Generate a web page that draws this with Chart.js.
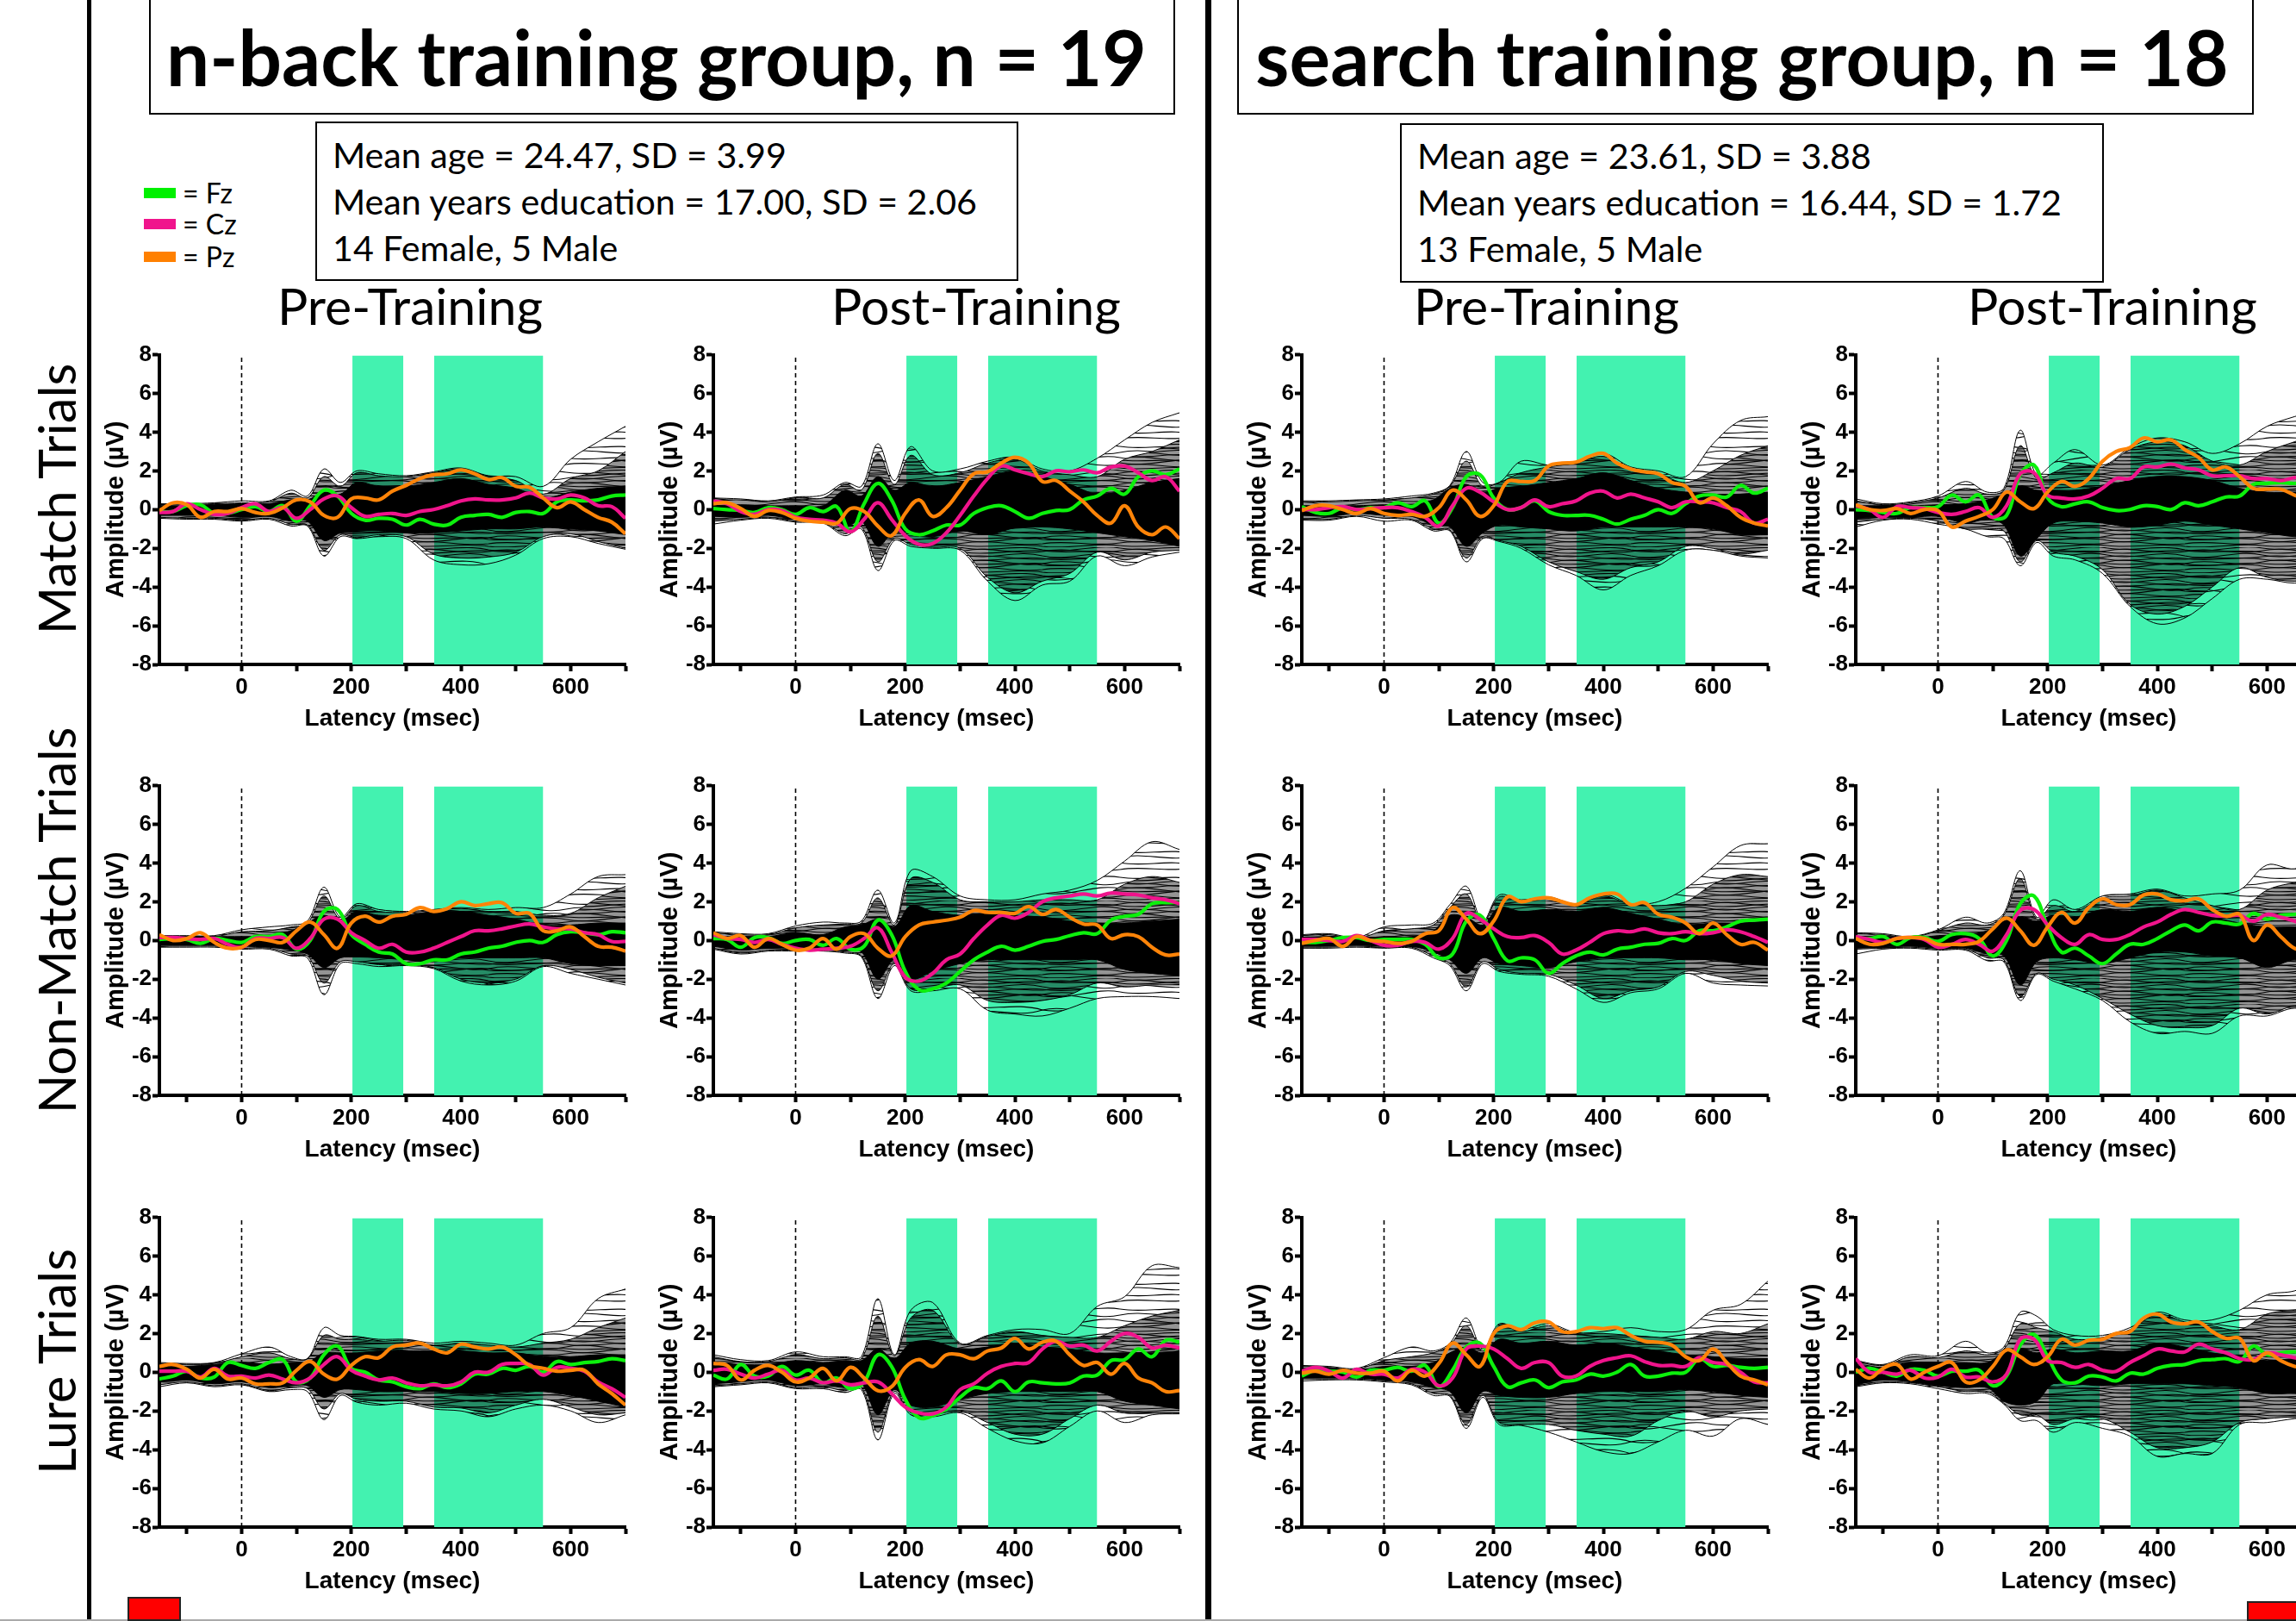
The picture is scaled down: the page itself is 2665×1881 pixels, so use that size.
<!DOCTYPE html>
<html>
<head>
<meta charset="utf-8">
<title>ERP butterfly plots</title>
<script src="https://cdn.jsdelivr.net/npm/chart.js@4/dist/chart.umd.min.js"></script>
<style>
html, body { margin: 0; padding: 0; background: #fff; }
body { position: relative; width: 2665px; height: 1881px; overflow: hidden; font-family: Lato, sans-serif; color: #000; }
canvas { position: absolute; }
.abs { position: absolute; white-space: nowrap; }
.vline { position: absolute; top: 0; height: 1881px; background: #000; }
.titlebox { position: absolute; top: -4px; height: 137px; border: 2px solid #000; box-sizing: border-box; font-weight: 700; font-size: 89px; line-height: 135px; text-align: center; white-space: nowrap; }
.infobox { position: absolute; border: 2px solid #000; box-sizing: border-box; font-size: 41.2px; line-height: 54px; padding: 9px 0 0 18px; white-space: nowrap; }
.head { position: absolute; font-size: 59px; line-height: 70px; transform: translateX(-50%); white-space: nowrap; }
.rowlabel { position: absolute; font-size: 59.7px; line-height: 70px; transform: translate(-50%, -50%) rotate(-90deg); white-space: nowrap; }
.swatch { position: absolute; left: 167px; width: 37px; height: 12px; }
.legtext { position: absolute; left: 212px; font-size: 32px; line-height: 34px; white-space: nowrap; }
.red { position: absolute; background: #f00; border: 2px solid #222; box-sizing: border-box; }
</style>
</head>
<body>
<div class="vline" style="left:101px;width:5px"></div>
<div class="vline" style="left:1399px;width:7px"></div>
<div class="abs" style="left:0;top:1879px;width:2665px;height:2px;background:#aaa"></div>

<div class="titlebox" style="left:173px;width:1191px;padding-right:13px">n-back training group, n = 19</div>
<div class="titlebox" style="left:1436px;width:1180px;padding-right:8px;letter-spacing:0.15px">search training group, n = 18</div>

<div class="infobox" style="left:366px;top:141px;width:816px;height:185px">Mean age = 24.47, SD = 3.99<br>Mean years education = 17.00, SD = 2.06<br>14 Female, 5 Male</div>
<div class="infobox" style="left:1625px;top:143px;width:817px;height:185px;padding-top:8px">Mean age = 23.61, SD = 3.88<br>Mean years education = 16.44, SD = 1.72<br>13 Female, 5 Male</div>

<div class="swatch" style="top:218px;background:#00f000"></div><div class="legtext" style="top:207px">= Fz</div>
<div class="swatch" style="top:254px;background:#f0148c"></div><div class="legtext" style="top:243px">= Cz</div>
<div class="swatch" style="top:292px;background:#ff8000"></div><div class="legtext" style="top:281px">= Pz</div>

<div class="head" style="left:476px;top:320px">Pre-Training</div>
<div class="head" style="left:1133px;top:320px">Post-Training</div>
<div class="head" style="left:1795px;top:320px">Pre-Training</div>
<div class="head" style="left:2452px;top:320px">Post-Training</div>

<div class="rowlabel" style="left:65px;top:579px">Match Trials</div>
<div class="rowlabel" style="left:65px;top:1068px">Non-Match Trials</div>
<div class="rowlabel" style="left:65px;top:1580px">Lure Trials</div>

<div class="red" style="left:148px;top:1853px;width:62px;height:28px"></div>
<div class="red" style="left:2608px;top:1858px;width:60px;height:23px"></div>

<script>
// latencies the coloured traces were read at
const tTrace = [-150,-125,-100,-75,-50,-25,0,25,50,75,100,125,150,175,200,225,250,275,300,325,350,375,400,425,450,475,500,525,550,575,600,625,650,675,700];
// latencies the butterfly outlines were read at
const tEnv = [-150,-100,-50,0,50,90,120,150,180,210,250,300,350,400,450,500,550,600,650,700];
const xTicks = [-100,0,100,200,300,400,500,600,700];
const xLabels = [0,200,400,600];
const yTicks = [-8,-6,-4,-2,0,2,4,6,8];
const windowA = [202,295];
const windowB = [351,550];

// n-back, pre, match
const p1Fz = [-.1,-.1,.2,.25,-.2,-.2,0,.15,-.1,.2,-.6,.2,1,.7,-.2,-.55,-.45,-.5,-.8,-.5,-.75,-.8,-.4,-.3,-.25,-.4,-.15,-.1,-.2,.4,.5,.45,.5,.7,.75];
const p1Cz = [-.15,-.1,.3,0,-.25,-.2,.1,.3,-.1,.1,-.45,0,.55,.7,.1,-.35,-.25,-.2,-.3,-.1,0,.2,.45,.55,.5,.5,.6,.85,.6,.55,.75,.6,.2,.15,-.45];
const p1Pz = [-.05,.35,.25,-.4,-.1,-.1,.05,-.15,-.2,.1,.5,.4,-.3,-.4,.55,.6,.5,.95,1.25,1.6,1.8,1.85,2.05,1.85,1.55,1.65,1.2,1.15,.6,.1,.4,0,-.4,-.65,-1.25];
const p1OuterHi = [.3,.3,.35,.45,.45,1,.7,2.1,1.4,2,1.85,1.75,1.95,2.15,1.75,1.7,1.2,2.6,3.5,4.3];
const p1Hi = [.25,.25,.3,.35,.4,.85,.6,1.7,1.2,1.9,1.75,1.7,1.9,2.1,1.7,1.5,.8,1.6,2,3];
const p1CoreHi = [.2,.2,.25,.3,.3,.5,.5,.9,.8,1.4,1.2,1.2,1.4,1.6,1.3,1.1,.6,.9,1.1,1.2];
const p1CoreLo = [-.3,-.3,-.3,-.4,-.35,-.6,-.6,-1.6,-1.2,-1.1,-1.1,-1.2,-1.2,-1.1,-1,-1,-.9,-1,-1.1,-1.3];
const p1Lo = [-.4,-.45,-.45,-.55,-.45,-.75,-.8,-2.1,-1.3,-1.45,-1.3,-1.4,-2.3,-2.5,-2.45,-2.2,-1.4,-1.25,-1.65,-2];
const p1OuterLo = [-.45,-.5,-.5,-.6,-.5,-.85,-.85,-2.4,-1.4,-1.5,-1.4,-1.5,-2.6,-2.85,-2.8,-2.35,-1.5,-1.4,-1.75,-2.05];

// n-back, post, match
const p2Fz = [.05,0,-.05,-.15,.1,0,-.25,.1,-.1,.15,-1.15,.3,1.35,.5,-1,-1.3,-1.1,-.8,-.8,-.2,.1,.2,-.1,-.45,-.2,-.05,0,.5,.7,1.1,.8,1.7,2,1.8,2.1];
const p2Cz = [.45,.3,-.1,-.25,0,-.05,-.4,-.5,-.55,-.7,-1.15,-.5,.35,-.5,-1.35,-1.8,-1.75,-1.2,-.3,.7,1.6,2.25,2.05,1.85,1.7,2,1.95,2.05,1.9,2.2,2.25,1.9,1.5,1.7,.95];
const p2Pz = [.3,.35,.05,-.35,-.05,-.15,-.45,-.6,-.65,-.7,.05,-.1,-.85,-1.35,-.2,.5,-.35,.1,1,1.85,1.95,2.4,2.7,2.4,1.45,1.5,.95,.4,-.3,-.7,.2,-.9,-1.3,-.9,-1.5];
const p2OuterHi = [.6,.55,.45,.65,.75,1.4,1.2,3.4,1.5,3.25,2,2.1,2.5,2.7,2.1,2,2.65,3.6,4.5,5];
const p2Hi = [.5,.5,.4,.6,.6,1.3,1,2.9,1.3,2.8,1.8,1.9,2.4,2.6,2,1.8,1.7,2.6,3,3.6];
const p2CoreHi = [.2,.25,.2,.2,.2,1,.7,1.7,1,1.4,1.2,1.4,1.7,2,1.7,1.3,.8,1,1.4,1.6];
const p2CoreLo = [-.35,-.4,-.3,-.5,-.55,-.9,-.6,-1.9,-1.1,-1.2,-1.4,-1.1,-1.3,-.95,-.9,-1,-1.2,-1.4,-1.6,-1.9];
const p2Lo = [-.6,-.5,-.4,-.6,-.65,-1.25,-.9,-2.7,-1.5,-1.8,-1.95,-2,-3.5,-4.3,-3.7,-3.3,-2.2,-2.6,-2.2,-2.1];
const p2OuterLo = [-.75,-.55,-.45,-.65,-.7,-1.35,-1,-3.15,-1.6,-1.9,-2,-2.1,-3.7,-4.7,-3.9,-3.7,-2.4,-2.9,-2.45,-2.2];

// search, pre, match
const p3Fz = [.15,-.15,-.2,.1,0,.1,.1,.35,.15,.45,-.7,.1,1.7,1.8,.6,0,.1,.45,-.1,-.3,-.3,-.3,-.5,-.75,-.5,-.3,0,-.2,.3,.7,.75,.65,1.25,.85,1.1];
const p3Cz = [0,0,.1,.15,0,.05,.1,.1,-.1,-.4,-.85,.2,1.1,.9,.4,0,.1,.5,.15,.3,.45,.85,.95,.6,.8,.6,.4,.1,.4,.4,.35,.1,-.1,-.7,-.5];
const p3Pz = [-.05,.2,.2,0,-.2,.05,-.2,-.3,-.25,-.35,.1,1,.5,-.35,.2,1.45,1.45,1.5,2.25,2.4,2.45,2.75,2.9,2.4,2.1,1.95,1.85,1.4,1.2,.35,.6,.2,-.4,-.7,-.85];
const p3OuterHi = [.45,.45,.5,.55,.7,.85,1.25,3,1.4,1.4,2.5,2.3,2.4,2.9,2.2,2,1.7,3.4,4.6,4.8];
const p3Hi = [.4,.4,.45,.5,.6,.8,1.2,2.5,1.2,1.4,1.9,2.2,2.4,2.75,2.1,1.85,1.4,2,2.8,3.3];
const p3CoreHi = [.2,.2,.2,.25,.25,.5,1.1,1.3,.9,1.1,1.2,1.4,1.6,1.9,1.5,1.1,.9,.8,.8,.9];
const p3CoreLo = [-.3,-.35,-.2,-.3,-.35,-.8,-.9,-1.9,-1.2,-.8,-.9,-1,-1.1,-.9,-.9,-.9,-.9,-1,-1.3,-1.3];
const p3Lo = [-.5,-.5,-.3,-.45,-.5,-1,-1.05,-2.5,-1.4,-1.6,-1.9,-2.7,-3.2,-3.6,-3,-2.7,-1.9,-2,-2.3,-2.1];
const p3OuterLo = [-.55,-.55,-.35,-.6,-.55,-1.1,-1.1,-2.7,-1.5,-1.65,-2,-2.85,-3.4,-4.15,-3.4,-2.9,-2.1,-2.1,-2.4,-2.5];

// search, post, match
const p4Fz = [0,-.05,-.15,-.2,.1,.1,.15,.75,.4,.75,-.4,-.3,1.8,2.3,.6,.15,.3,.4,.1,-.05,0,.2,.15,0,.35,.2,.4,.65,.7,1.3,1.35,1.4,1.35,1.45,1.5];
const p4Cz = [.2,0,-.4,.15,.1,.05,-.15,-.25,-.1,.1,-.4,.2,1.85,1.9,.75,.6,.55,.7,1.1,1.6,1.6,2.2,2.2,2.35,2.15,2.05,1.75,1.75,1.75,1.6,1.6,1.5,1.65,1.7,1.6];
const p4Pz = [.25,0,-.05,.05,-.2,0,-.05,-.9,-.6,-.35,0,.9,.4,.05,.9,1.45,1.2,1.6,2.5,3,3.2,3.7,3.5,3.6,3.1,2.7,2.05,2.2,1.7,1.1,1.05,1.05,.75,.5,.3];
const p4OuterHi = [.55,.3,.4,.7,1.45,.9,1.1,4.1,1.8,2.4,3.1,2.3,3.2,3.7,3.5,2.9,3.4,4.3,4.8,5.2];
const p4Hi = [.45,.25,.35,.6,1.1,.8,1,3.3,1.6,1.9,2.4,2.2,3.1,3.5,3.3,2.5,2.3,3,3.5,4];
const p4CoreHi = [.2,.2,.2,.25,.3,.5,.8,1.2,1,1,1,1.2,1.5,1.7,1.7,1.5,1.1,.9,.9,.9];
const p4CoreLo = [-.45,-.4,-.4,-.35,-.7,-.5,-.8,-2.4,-1.5,-.7,-.6,-.7,-.9,-.8,-.6,-.8,-1,-1.2,-1.4,-1.4];
const p4Lo = [-.65,-.5,-.45,-.6,-1,-1,-1.1,-2.7,-1.6,-2.2,-2.4,-3.1,-4.9,-5.4,-5,-4,-3,-3.5,-3.7,-3.5];
const p4OuterLo = [-.9,-.55,-.5,-.75,-1,-1.4,-1.5,-2.9,-1.7,-2.4,-2.6,-3.3,-5,-5.9,-5.6,-4.6,-3.6,-3.6,-3.8,-3.6];

// n-back, pre, non-match
const p5Fz = [.05,.1,.05,-.15,.1,0,-.1,.2,.2,.3,-.45,0,1.5,1.6,.3,-.2,-.6,-.7,-1.2,-1.2,-1,-1,-.7,-.6,-.4,-.3,-.1,0,-.1,.3,.45,.4,.3,.45,.4];
const p5Cz = [.15,.15,.1,.05,.1,-.2,-.35,.1,.1,.15,-.4,.1,1.1,1.1,.4,0,-.4,-.2,-.6,-.6,-.4,-.1,.2,.5,.5,.6,.75,.85,.7,.6,.6,.4,.3,-.05,-.05];
const p5Pz = [.3,0,.1,.4,-.1,-.4,-.35,.05,0,-.1,.5,.95,.3,-.4,.9,1.25,.95,1.25,1.35,1.7,1.5,1.65,2,1.8,1.9,1.95,1.4,1.4,.5,.5,.7,.2,-.3,-.35,-.55];
const p5OuterHi = [.25,.25,.25,.55,.7,.8,1,2.75,1.2,1.9,1.6,1.5,1.6,1.7,1.6,1.7,1.7,2.4,3.3,3.4];
const p5Hi = [.2,.2,.2,.45,.5,.7,.9,2.3,1.1,1.8,1.5,1.45,1.55,1.65,1.5,1.5,1.3,1.4,2.2,2.8];
const p5CoreHi = [.15,.2,.2,.2,.2,.5,.9,1.3,1,1.5,1.3,1.3,1.5,1.5,1.3,1.1,.8,.8,.9,.9];
const p5CoreLo = [-.25,-.25,-.25,-.3,-.35,-.5,-.7,-1.4,-.9,-.85,-.9,-1,-1.1,-.9,-.9,-.9,-.9,-1.2,-1.3,-1.3];
const p5Lo = [-.3,-.3,-.3,-.4,-.4,-.7,-.8,-2.2,-1.1,-1.1,-1.25,-1.25,-1.4,-2,-2.2,-2,-1.3,-1.5,-1.9,-2.2];
const p5OuterLo = [-.35,-.35,-.35,-.45,-.45,-.8,-.9,-2.8,-1.2,-1.2,-1.35,-1.3,-1.45,-2.1,-2.3,-2.1,-1.35,-1.7,-2,-2.3];

// n-back, post, non-match
const p6Fz = [.1,.05,-.35,.15,.15,-.15,0,.05,-.25,.1,-.45,-.3,1.05,.3,-1.6,-2.55,-2.5,-2.2,-1.6,-1,-.6,-.3,-.5,-.3,-.05,.05,.25,.4,.35,1.05,1.25,1.35,1.9,1.95,1.95];
const p6Cz = [.3,.1,.05,-.1,.05,-.2,-.4,-.5,-.45,-.4,-.3,.1,.65,-.6,-1.9,-2.1,-1.7,-1,-.7,.1,.8,1.3,1.15,1.45,2,2.2,2.3,2.4,2.3,2.45,2.4,2.35,2.2,2.1,1.9];
const p6Pz = [.4,.1,.25,-.35,.1,-.2,-.5,-.4,.1,-.45,.2,.35,-.4,-.8,.2,.8,.95,1.05,1.2,1.55,1.45,1.45,1.4,1.75,1.35,1.6,1.2,.85,.8,.1,.3,.2,-.35,-.75,-.7];
const p6OuterHi = [.45,.35,.35,.75,.95,.9,1,2.6,.9,3.6,3.3,2.3,2.1,2.1,2.4,2.6,3.1,4.1,5.1,4.7];
const p6Hi = [.4,.3,.3,.65,.8,.85,.9,2.2,.8,3.2,3,2.1,2,2,2.1,2.1,2.1,2.9,3.3,3];
const p6CoreHi = [.2,.2,.2,.4,.3,.7,.8,1.1,.7,1.8,1.5,1.3,1.4,1.3,1.2,1,.9,.9,1,1.1];
const p6CoreLo = [-.3,-.5,-.4,-.4,-.4,-.5,-.6,-2,-1,-2,-1.6,-1.2,-1,-1,-1,-1,-1,-1.5,-1.7,-1.8];
const p6Lo = [-.4,-.65,-.5,-.5,-.5,-.6,-.8,-2.6,-1.2,-2.5,-2.5,-2.3,-3.1,-3.2,-3.1,-2.8,-2.2,-2.4,-2.3,-2.3];
const p6OuterLo = [-.45,-.7,-.55,-.55,-.55,-.65,-.85,-3,-1.3,-2.6,-2.6,-2.5,-3.6,-3.8,-3.9,-3.5,-3,-2.9,-2.9,-3];

// search, pre, non-match
const p7Fz = [-.1,-.1,0,.15,.15,0,.05,.05,.05,-.2,-.9,-.7,1,1.3,.1,-1.05,-.9,-1,-1.7,-1.2,-.8,-.6,-.75,-.45,-.35,-.2,-.15,.1,0,.5,.5,.7,1,1.05,1.1];
const p7Cz = [.05,.05,0,-.05,.25,0,-.25,-.25,-.05,-.1,-.45,.1,1.4,1.1,.6,.2,.15,.25,-.1,-.7,-.5,-.1,.35,.5,.45,.6,.4,.35,.45,.35,.4,.55,.45,.2,-.1];
const p7Pz = [-.15,0,.1,-.3,.2,0,-.05,-.15,-.05,.35,.5,1.7,1.1,.35,1,2.25,2,2.15,2.2,2,1.85,2.2,2.4,2.4,1.85,1.95,1.35,1.2,.9,.35,.9,.3,-.2,-.1,-.5];
const p7OuterHi = [.3,.35,.15,.7,.8,.9,1.85,2.8,1,2.35,2.1,2.25,1.9,2.4,1.9,2,2.7,3.8,4.9,5];
const p7Hi = [.25,.3,.1,.5,.6,.8,1.7,2.4,.9,2.25,2,2.15,1.85,2.3,1.85,1.8,2,2.9,3.4,3.3];
const p7CoreHi = [.15,.2,.1,.2,.2,.5,1.3,1.2,.8,1.7,1.5,1.6,1.5,1.7,1.4,1.1,.8,.9,.9,1];
const p7CoreLo = [-.3,-.3,-.25,-.3,-.3,-.6,-1,-1.7,-.9,-1.2,-1.3,-1.4,-1.1,-.9,-.9,-.9,-1,-1,-1.2,-1.3];
const p7Lo = [-.35,-.35,-.3,-.35,-.35,-.8,-1.2,-2.4,-1.1,-1.5,-1.7,-1.75,-2.3,-3,-2.6,-2.4,-1.6,-1.8,-2.1,-2.2];
const p7OuterLo = [-.4,-.4,-.35,-.4,-.4,-.9,-1.3,-2.6,-1.2,-1.6,-1.75,-1.85,-2.5,-3.2,-2.7,-2.5,-1.7,-2.2,-2.3,-2.35];

// search, post, non-match
const p8Fz = [.1,.1,.2,-.2,.15,.15,-.05,.3,.35,.1,-.8,0,1.9,2.3,.7,-.6,-.4,-.8,-1.2,-.7,-.2,-.2,.1,.5,.8,.5,.95,.9,.85,1.4,1.1,1.3,1.35,1.4,1.4];
const p8Cz = [.2,.05,-.1,.1,.15,.05,-.35,-.2,.05,-.2,-.55,.3,1.55,1.6,.8,.15,-.2,.3,.05,.05,.3,.7,.95,1.35,1.6,1.45,1.3,1.25,1.3,1,1.35,1.2,1,.7,.5];
const p8Pz = [.1,-.2,-.15,.1,.15,.1,-.2,-.2,-.2,-.05,.6,1.15,.5,-.25,.7,1.45,.9,1.7,2.15,1.85,1.85,2.35,2.4,2.1,2.05,2.15,1.6,1.25,1.35,0,.8,.2,-.4,-.5,-.5];
const p8OuterHi = [.4,.35,.2,.55,1.2,.9,1.4,3.6,1.2,2.1,1.6,2.3,2.4,2.65,2.3,2.4,2.6,3.9,3.7,4.3];
const p8Hi = [.35,.3,.15,.5,.9,.8,1.3,3.2,1.1,1.8,1.5,2.2,2.3,2.6,2.2,1.8,1.6,2.6,3,3.3];
const p8CoreHi = [.2,.2,.1,.25,.3,.5,1,1.2,1,1.3,1.2,1.6,1.5,1.7,1.5,1.2,.9,.7,.7,.7];
const p8CoreLo = [-.4,-.35,-.3,-.4,-.4,-.7,-.8,-2.3,-1.1,-.9,-1,-1.2,-.9,-.6,-.6,-.8,-.9,-1.4,-1,-1.2];
const p8Lo = [-.45,-.4,-.35,-.45,-.45,-.9,-1,-2.9,-1.7,-2,-2.3,-3,-3.8,-4.4,-4.5,-4.4,-3.5,-3.8,-3.4,-3.7];
const p8OuterLo = [-.7,-.45,-.4,-.5,-.5,-1.05,-1.1,-3.1,-1.75,-2.1,-2.5,-3.1,-4.2,-4.8,-4.7,-4.8,-3.9,-3.9,-3.5,-3.8];

// n-back, pre, lure
const p9Fz = [-.35,-.2,.05,-.3,-.25,.5,.35,.2,.5,.65,-.5,-.3,.9,1.35,.2,0,-.4,-.5,-.75,-.85,-.6,-.8,-.6,-.1,-.1,.2,.1,.3,0,.55,.4,.5,.55,.7,.6];
const p9Cz = [.05,.05,.05,-.25,.2,-.2,-.2,-.3,-.15,-.35,-.55,-.3,.4,.8,.1,-.2,-.4,-.3,-.55,-.7,-.65,-.7,-.5,0,0,.4,.45,.4,-.15,.25,.2,.05,-.5,-.85,-1.3];
const p9Pz = [.3,.4,.15,-.3,.15,-.35,-.3,-.6,-.6,-.55,.1,.55,-.1,-.35,.35,.8,.75,1.3,1.4,1.5,1.2,1,1.45,1.3,1.2,1.3,.9,.35,.2,.05,.1,.1,-.6,-1.1,-1.7];
const p9OuterHi = [.5,.45,.5,.95,1.3,.8,.7,2.3,1.9,1.85,1.7,1.7,1.5,1.6,1.5,1.4,2,2.3,3.8,4.3];
const p9Hi = [.45,.4,.45,.8,1,.7,.7,1.9,1.7,1.7,1.6,1.65,1.4,1.5,1.4,1.3,1.5,1.7,2.3,2.8];
const p9CoreHi = [.3,.3,.4,.5,.4,.5,.5,1,1,1,1.1,1.1,1.1,1.1,1,1,.8,.8,.9,.9];
const p9CoreLo = [-.5,-.4,-.6,-.5,-.8,-.7,-.7,-1.3,-.9,-.9,-1,-1,-1,-1.1,-1.1,-1,-1,-1.2,-1.5,-1.8];
const p9Lo = [-.65,-.5,-.7,-.6,-.95,-.8,-.85,-1.9,-1.1,-1.4,-1.5,-1.5,-1.8,-1.85,-2.1,-1.7,-1.4,-1.8,-2.2,-2.1];
const p9OuterLo = [-.75,-.55,-.75,-.65,-1,-.9,-1,-2.45,-1.2,-1.55,-1.7,-1.6,-1.9,-2,-2.3,-1.9,-1.7,-2,-2.6,-2.2];

// n-back, post, lure
const p10Fz = [-.15,-.35,.4,-.2,-.2,.3,-.15,.1,-.55,-.3,-.85,-.5,.9,.3,-1.4,-2.35,-2.25,-1.9,-1.3,-.8,-.85,-.45,-1,-.5,-.55,-.6,-.55,-.2,-.15,.6,.65,1.2,.8,1.65,1.55];
const p10Cz = [.1,.15,-.1,-.3,-.1,.1,-.4,-.3,-.55,-.45,-.65,-.55,-.5,-1.1,-1.8,-2.1,-2.15,-1.8,-.9,-.6,-.05,.3,.45,.5,1.2,1.6,1.35,1.4,1.1,1.6,2,1.8,1.25,1.4,1.25];
const p10Pz = [.45,.35,-.4,.1,.35,0,-.5,-.3,.2,-.45,.25,-.3,-.95,-.75,.25,.65,.3,.9,.9,.7,1.1,1.25,1.75,1.2,1.55,1.6,.9,.35,.5,-.1,.45,-.3,-.55,-1,-.95];
const p10OuterHi = [.9,.65,.6,1.05,.8,.8,.8,3.8,.9,3.2,3.6,1.5,1.9,2.2,2.2,2,3.4,3.9,5.5,5.4];
const p10Hi = [.8,.55,.55,.9,.7,.75,.7,2.9,.85,2.8,3.2,1.45,1.85,2.1,1.9,1.8,1.8,2.4,2.9,3.2];
const p10CoreHi = [.5,.4,.4,.6,.5,.6,.6,1.2,.7,1.5,1.6,1.2,1.3,1.5,1.3,1.2,1,1,1,1.1];
const p10CoreLo = [-.6,-.5,-.4,-.7,-.6,-.8,-.6,-2.2,-.9,-1.7,-1.8,-1.4,-1.1,-1,-1,-1,-1,-1.5,-1.7,-1.9];
const p10Lo = [-.7,-.6,-.5,-.8,-.75,-.95,-.8,-3.1,-1,-2.1,-2.2,-2,-2.6,-3.2,-3.2,-2.4,-1.7,-2.1,-2.1,-2.1];
const p10OuterLo = [-.75,-.65,-.55,-.85,-.85,-1.05,-.9,-3.5,-1.1,-2.2,-2.3,-2.1,-2.9,-3.55,-3.65,-2.8,-2,-2.6,-2.2,-2.15];

// search, pre, lure
const p11Fz = [-.2,.1,.05,0,-.25,.1,.1,.25,.05,.35,-.75,.1,1.3,1.5,.3,-.75,-.55,-.4,-.8,-.5,-.4,-.1,-.2,0,.4,-.2,-.2,-.05,0,.7,.3,.35,.25,.2,.25];
const p11Cz = [.05,.25,.05,-.3,.15,-.1,-.1,-.3,.15,0,-.7,-.3,1.2,1.35,1.2,.7,.2,.5,.5,-.2,-.2,.3,.6,.75,.85,.55,.35,.35,.3,.75,.5,.4,0,-.5,-.55];
const p11Pz = [-.05,.05,-.1,.1,-.05,-.05,.05,-.45,.1,-.2,.45,1.5,.9,.3,2,2.4,2.2,2.55,2.6,2.1,2.1,2.3,2.25,2.3,1.9,1.6,1.55,1.4,.8,.6,1.2,.5,-.2,-.4,-.65];
const p11OuterHi = [.35,.3,.2,.75,1.3,1.1,1.5,2.8,1.2,2.5,2.2,2.5,2.05,2.1,2.3,2.1,2.2,3.2,3.5,4.7];
const p11Hi = [.3,.25,.15,.6,.8,1,1.4,2.4,1.1,2.4,2.1,2.4,2,2,1.9,1.8,1.7,2.1,2,2.5];
const p11CoreHi = [.2,.15,.1,.3,.3,.5,1,1.3,1,1.7,1.5,1.6,1.4,1.5,1.3,1.1,.9,.8,.7,.7];
const p11CoreLo = [-.3,-.3,-.3,-.4,-.5,-.8,-1,-2.1,-1,-1.2,-1.3,-1.3,-1.1,-1,-1,-1,-.9,-1,-1.2,-1.3];
const p11Lo = [-.35,-.35,-.35,-.45,-.6,-1.1,-1.2,-2.7,-1.2,-2.6,-2.7,-2.7,-3,-3.2,-3.3,-2.5,-2,-2.3,-2,-1.9];
const p11OuterLo = [-.45,-.4,-.4,-.5,-.65,-1.2,-1.25,-2.9,-1.3,-2.7,-2.75,-3.1,-3.6,-4.1,-4.2,-3.6,-3,-3.3,-2.4,-2.7];

// search, post, lure
const p12Fz = [0,.2,0,-.2,.15,.1,-.2,.05,.05,.1,-.7,-.2,1.4,1.95,.8,-.4,-.55,-.2,-.25,-.45,-.05,-.1,.2,.35,.4,.6,.65,.7,.55,1.35,.9,1,1.05,.9,.8];
const p12Cz = [.7,0,0,-.1,.1,-.3,-.25,.15,-.25,-.25,-.5,-.1,1.7,1.7,.6,.5,.25,.4,.1,.05,.5,.85,1.2,1.1,1.05,1.45,1.2,1,.7,.65,1,.9,.75,.6,.5];
const p12Pz = [.15,-.3,.2,.4,-.35,0,.3,.5,-.5,-.4,.3,1.15,.8,.4,.8,1.7,1.4,1.65,1.7,2,2.1,2.8,3,2.6,2.5,2.6,2.1,1.75,1.75,.6,1,.6,.3,.2,.2];
const p12OuterHi = [.6,.4,.9,.85,1.6,1,1.3,3.1,2.9,2.2,1.9,1.9,2.3,3.1,2.7,2.7,3.2,4,4.2,4.8];
const p12Hi = [.55,.35,.8,.75,1.1,.9,1.2,2.5,2.3,2.1,1.7,1.8,2.2,3,2.6,2.4,2.2,3,3.2,3.3];
const p12CoreHi = [.35,.25,.5,.5,.5,.5,1,1.2,1,1.2,1,1.1,1.1,1.5,1.3,1,.8,.6,.7,.7];
const p12CoreLo = [-.65,-.4,-.5,-.7,-.8,-.8,-1.5,-1.7,-1.5,-.6,-.6,-.7,-.6,-.6,-.6,-.7,-.8,-1.1,-1.1,-1.2];
const p12Lo = [-.7,-.5,-.55,-.75,-1,-1,-1.6,-2.2,-2.2,-2.7,-2.4,-2.4,-3.1,-3.9,-3.9,-3.6,-2.6,-2.4,-2.3,-2.2];
const p12OuterLo = [-.75,-.55,-.6,-.85,-1.1,-1.1,-1.65,-2.5,-2.5,-3.1,-2.6,-2.9,-3.3,-4.35,-4.2,-4.2,-2.7,-2.6,-2.4,-2.3];

const panels = [
    [p1Fz,p1Cz,p1Pz,p1OuterHi,p1Hi,p1CoreHi,p1CoreLo,p1Lo,p1OuterLo],
    [p2Fz,p2Cz,p2Pz,p2OuterHi,p2Hi,p2CoreHi,p2CoreLo,p2Lo,p2OuterLo],
    [p3Fz,p3Cz,p3Pz,p3OuterHi,p3Hi,p3CoreHi,p3CoreLo,p3Lo,p3OuterLo],
    [p4Fz,p4Cz,p4Pz,p4OuterHi,p4Hi,p4CoreHi,p4CoreLo,p4Lo,p4OuterLo],
    [p5Fz,p5Cz,p5Pz,p5OuterHi,p5Hi,p5CoreHi,p5CoreLo,p5Lo,p5OuterLo],
    [p6Fz,p6Cz,p6Pz,p6OuterHi,p6Hi,p6CoreHi,p6CoreLo,p6Lo,p6OuterLo],
    [p7Fz,p7Cz,p7Pz,p7OuterHi,p7Hi,p7CoreHi,p7CoreLo,p7Lo,p7OuterLo],
    [p8Fz,p8Cz,p8Pz,p8OuterHi,p8Hi,p8CoreHi,p8CoreLo,p8Lo,p8OuterLo],
    [p9Fz,p9Cz,p9Pz,p9OuterHi,p9Hi,p9CoreHi,p9CoreLo,p9Lo,p9OuterLo],
    [p10Fz,p10Cz,p10Pz,p10OuterHi,p10Hi,p10CoreHi,p10CoreLo,p10Lo,p10OuterLo],
    [p11Fz,p11Cz,p11Pz,p11OuterHi,p11Hi,p11CoreHi,p11CoreLo,p11Lo,p11OuterLo],
    [p12Fz,p12Cz,p12Pz,p12OuterHi,p12Hi,p12CoreHi,p12CoreLo,p12Lo,p12OuterLo]
];

// page layout of the panels: left edge of the plot, top edge of the plot
const colLeft = [184.5, 828, 1510.5, 2153.5];
const rowTop = [410.5, 911, 1411.5];
const plotW = 541.6, plotH = 360, yAxisW = 68, xAxisH = 80, padTop = 16, padRight = 8;

// wavy hair texture for the spread part of the butterfly, purely a fill style
function makeHairFill(base, rows) {
    const tile = document.createElement('canvas');
    tile.width = 180;
    tile.height = 30;
    const c = tile.getContext('2d');
    c.fillStyle = base;
    c.fillRect(0, 0, 180, 30);
    c.strokeStyle = '#000';
    c.lineWidth = 1.1;
    rows.forEach(r => {
        c.beginPath();
        c.moveTo(0, r[0]);
        c.bezierCurveTo(30, r[0] + r[1], 60, r[0] - r[1], 90, r[0] + r[2]);
        c.bezierCurveTo(120, r[0] + r[2] + r[1], 150, r[0] - r[1], 180, r[0]);
        c.stroke();
    });
    return c.createPattern(tile, 'repeat');
}
const denseFill = makeHairFill('rgba(0,0,0,0.42)', [[1,5,2],[4,-6,1],[6,4,-2],[9,7,1],[11,-4,3],[14,5,-1],[17,-7,2],[19,3,2],[22,6,-3],[25,-5,1],[28,4,1]]);
const sparseFill = makeHairFill('rgba(0,0,0,0)', [[3,5,4],[10,-7,-3],[16,6,5],[24,-5,-4]]);

const xy = (xs, ys) => ys.map((y, i) => ({ x: xs[i], y: y }));

function outline(ys, order, fillTo, bg) {
    return {
        data: xy(tEnv, ys), borderColor: '#000', borderWidth: 1, tension: 0.35, pointRadius: 0,
        fill: fillTo === undefined ? false : fillTo, backgroundColor: bg, order: order
    };
}

function trace(ys, color, order) {
    return { data: xy(tTrace, ys), borderColor: color, borderWidth: 4.2, tension: 0.4, pointRadius: 0, fill: false, order: order };
}

function band(win) {
    return {
        data: [{ x: win[0], y: 7.95 }, { x: win[1], y: 7.95 }],
        borderWidth: 0, pointRadius: 0, tension: 0, order: 20,
        fill: { value: -8 }, backgroundColor: '#43f2b0'
    };
}

function drawPanel(p, idx) {
    const col = idx % 4, row = Math.floor(idx / 4);
    const canvas = document.createElement('canvas');
    canvas.width = yAxisW + plotW + padRight;
    canvas.height = padTop + plotH + xAxisH;
    canvas.style.left = (colLeft[col] - yAxisW) + 'px';
    canvas.style.top = (rowTop[row] - padTop) + 'px';
    document.body.appendChild(canvas);

    const datasets = [
        band(windowA),
        band(windowB),
        { data: [{ x: 0, y: -8 }, { x: 0, y: 8 }], borderColor: '#000', borderWidth: 1.6, borderDash: [5, 4], pointRadius: 0, order: 15 },
        outline(p[3], 9, 5, sparseFill),   // top outliers down to the spread part
        outline(p[8], 9, 6, sparseFill),   // bottom outliers up to the spread part
        outline(p[4], 8, 6, denseFill),    // spread part, upper edge down to lower edge
        outline(p[7], 8),
        outline(p[5], 7, 8, '#000'),       // solid core
        outline(p[6], 7),
        trace(p[0], '#0cf00c', 3),
        trace(p[1], '#f0148c', 2),
        trace(p[2], '#ff8408', 1)
    ];

    const tickFont = { family: 'Liberation Sans', weight: 'bold', size: 26 };
    const titleFont = { family: 'Liberation Sans', weight: 'bold', size: 28 };

    new Chart(canvas, {
        type: 'line',
        data: { datasets: datasets },
        options: {
            responsive: false,
            animation: false,
            events: [],
            layout: { padding: { top: padTop, right: padRight, left: 0, bottom: 0 } },
            plugins: { legend: { display: false }, tooltip: { enabled: false } },
            scales: {
                x: {
                    type: 'linear', min: -150, max: 700,
                    afterBuildTicks: s => { s.ticks = xTicks.map(v => ({ value: v })); },
                    afterFit: s => { s.height = xAxisH; },
                    ticks: {
                        autoSkip: false, maxRotation: 0, padding: 3, color: '#000', font: tickFont,
                        callback: v => xLabels.includes(v) ? String(v) : ''
                    },
                    grid: { drawOnChartArea: false, drawTicks: true, tickLength: 8, tickWidth: 4, tickColor: '#000' },
                    border: { display: true, color: '#000', width: 4 },
                    title: { display: true, text: 'Latency (msec)', color: '#000', padding: 0, font: titleFont }
                },
                y: {
                    min: -8, max: 8,
                    afterBuildTicks: s => { s.ticks = yTicks.map(v => ({ value: v })); },
                    afterFit: s => { s.width = yAxisW; },
                    ticks: { autoSkip: false, padding: 1, color: '#000', font: tickFont },
                    grid: { drawOnChartArea: false, drawTicks: true, tickLength: 8, tickWidth: 4, tickColor: '#000' },
                    border: { display: true, color: '#000', width: 4 },
                    title: {
                        display: true, text: 'Amplitude (\u00b5V)', color: '#000',
                        padding: { top: 1, bottom: 0 },
                        font: { family: 'Liberation Sans', weight: 'bold', size: 29 }
                    }
                }
            }
        }
    });
}

panels.forEach(drawPanel);
</script>
</body>
</html>
